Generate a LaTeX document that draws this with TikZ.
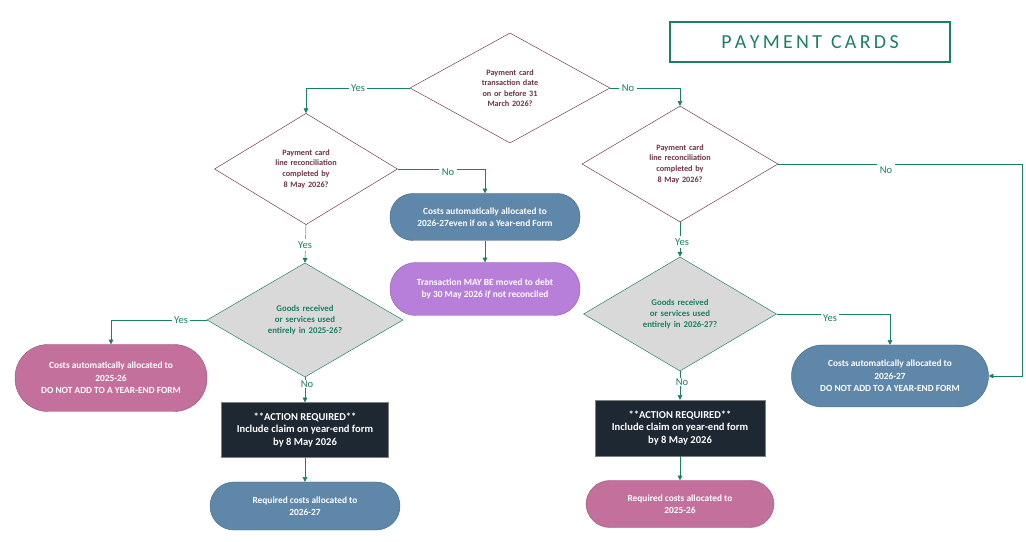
\documentclass[tikz,border=0pt]{standalone}
\usepackage{fontspec}
\setmainfont{Carlito}
\usetikzlibrary{shapes.geometric,arrows.meta}
\definecolor{teal}{HTML}{1A7F64}
\definecolor{maroon}{HTML}{6E3346}
\definecolor{steel}{HTML}{5E87AA}
\definecolor{pink}{HTML}{C4709C}
\definecolor{purp}{HTML}{B77FD9}
\definecolor{navy}{HTML}{1E2833}
\begin{document}
\begin{tikzpicture}[x=0.03cm,y=-0.03cm,
  dia/.style={diamond,draw=maroon,fill=white,inner sep=0pt,text width=#1,align=center,font=\fontsize{7}{9}\selectfont\bfseries,text=maroon},
  gdia/.style={diamond,draw=teal,fill=gray!30,inner sep=0pt,text width=#1,align=center,font=\fontsize{7.5}{9.5}\selectfont\bfseries,text=teal},
  pill/.style={rounded rectangle,fill=#1,draw=#1!80!black,text=white,align=center,font=\fontsize{8}{10.5}\selectfont\bfseries,inner sep=0pt},
  act/.style={rectangle,fill=navy,draw=gray,text=white,align=center,font=\fontsize{9}{11}\selectfont\bfseries,inner sep=0pt},
  arr/.style={draw=teal,-{Triangle[length=4pt,width=4pt]}},
  lbl/.style={fill=white,text=teal,font=\fontsize{9}{11}\selectfont,inner sep=2pt}]
\useasboundingbox (0,0) rectangle (1026,542);
\usetikzlibrary{shapes.misc}
% title
\node[draw=teal,line width=1.2pt,minimum width=280*0.03cm,minimum height=40*0.03cm,text=teal,font=\fontsize{17}{20}\selectfont] (title) at (810,42) {P\,A\,Y\,M\,E\,N\,T\ \ C\,A\,R\,D\,S};
% diamonds
\node[dia=62pt,minimum width=200*0.03cm,minimum height=100*0.03cm] (d1) at (510,88) {Payment card transaction date on or before 31 March 2026?};
\node[dia=62pt,minimum width=183*0.03cm,minimum height=92*0.03cm] (d2) at (306,169) {Payment card line reconciliation completed by 8 May 2026?};
\node[dia=66pt,minimum width=196*0.03cm,minimum height=102*0.03cm] (d3) at (680,164) {Payment card line reconciliation completed by 8 May 2026?};
\node[gdia=72pt,minimum width=196*0.03cm,minimum height=104*0.03cm] (d4) at (305,320) {Goods received or services used entirely in 2025-26?};
\node[gdia=72pt,minimum width=193*0.03cm,minimum height=104*0.03cm] (d5) at (680,314) {Goods received or services used entirely in 2026-27?};
% boxes
\tikzset{rounded rectangle/.style={rounded corners=22*0.03cm}}
\node[pill=steel,rounded corners=23*0.03cm,minimum width=190*0.03cm,minimum height=47*0.03cm] (b1) at (485,217) {Costs automatically allocated to\\2026-27even if on a Year-end Form};
\node[pill=purp,rounded corners=26*0.03cm,minimum width=190*0.03cm,minimum height=53*0.03cm] (b2) at (485,289) {Transaction MAY BE moved to debt\\by 30 May 2026 \textit{if} not reconciled};
\node[pill=pink,rounded corners=33*0.03cm,minimum width=192*0.03cm,minimum height=67*0.03cm] (p1) at (111,378) {Costs automatically allocated to\\2025-26\\DO NOT ADD TO A YEAR-END FORM};
\node[pill=steel,rounded corners=31*0.03cm,minimum width=197*0.03cm,minimum height=62*0.03cm] (p2) at (890,376) {Costs automatically allocated to\\2026-27\\DO NOT ADD TO A YEAR-END FORM};
\node[act,minimum width=167*0.03cm,minimum height=55*0.03cm] (a1) at (305,430) {**ACTION REQUIRED**\\Include claim on year-end form\\by 8 May 2026};
\node[act,minimum width=170*0.03cm,minimum height=56*0.03cm] (a2) at (680,428) {**ACTION REQUIRED**\\Include claim on year-end form\\by 8 May 2026};
\node[pill=steel,rounded corners=24*0.03cm,minimum width=190*0.03cm,minimum height=48*0.03cm] (r1) at (305,506) {Required costs allocated to\\2026-27};
\node[pill=pink,rounded corners=24*0.03cm,minimum width=188*0.03cm,minimum height=47*0.03cm] (r2) at (680,504) {Required costs allocated to\\2025-26};
% connectors
\draw[arr] (d1.west) -- (d1.west -| d2.north) -- (d2.north);
\node[lbl] at (358,88) {Yes};
\draw[arr] (d1.east) -- (d1.east -| d3.north) -- (d3.north);
\node[lbl] at (628,88) {No};
\draw[arr] (d2.east) -- (d2.east -| b1.north) -- (b1.north);
\node[lbl] at (448,172) {No};
\draw[arr] (b1) -- (b2);
\draw[arr] (d2.south) -- (d4.north);
\node[lbl] at (305,245) {Yes};
\draw[arr] (d4.west) -- (d4.west -| p1.north) -- (p1.north);
\node[lbl] at (181,320) {Yes};
\draw[arr] (d4.south) -- (a1.north);
\node[lbl,inner sep=0.5pt] at (307,384) {No};
\draw[arr] (a1) -- (r1);
\draw[arr] (d3.south) -- (d5.north);
\node[lbl] at (682,242) {Yes};
\draw[arr] (d5.east) -- (d5.east -| p2.north) -- (p2.north);
\node[lbl] at (830,318) {Yes};
\coordinate (c1) at (1022,164);
\draw[arr] (d3.east) -- (c1) -- (c1 |- p2.east) -- (p2.east);
\node[lbl] at (886,170) {No};
\draw[arr] (d5.south) -- (a2.north);
\node[lbl,inner sep=0.5pt] at (682,382) {No};
\draw[arr] (a2) -- (r2);
\end{tikzpicture}
\end{document}
